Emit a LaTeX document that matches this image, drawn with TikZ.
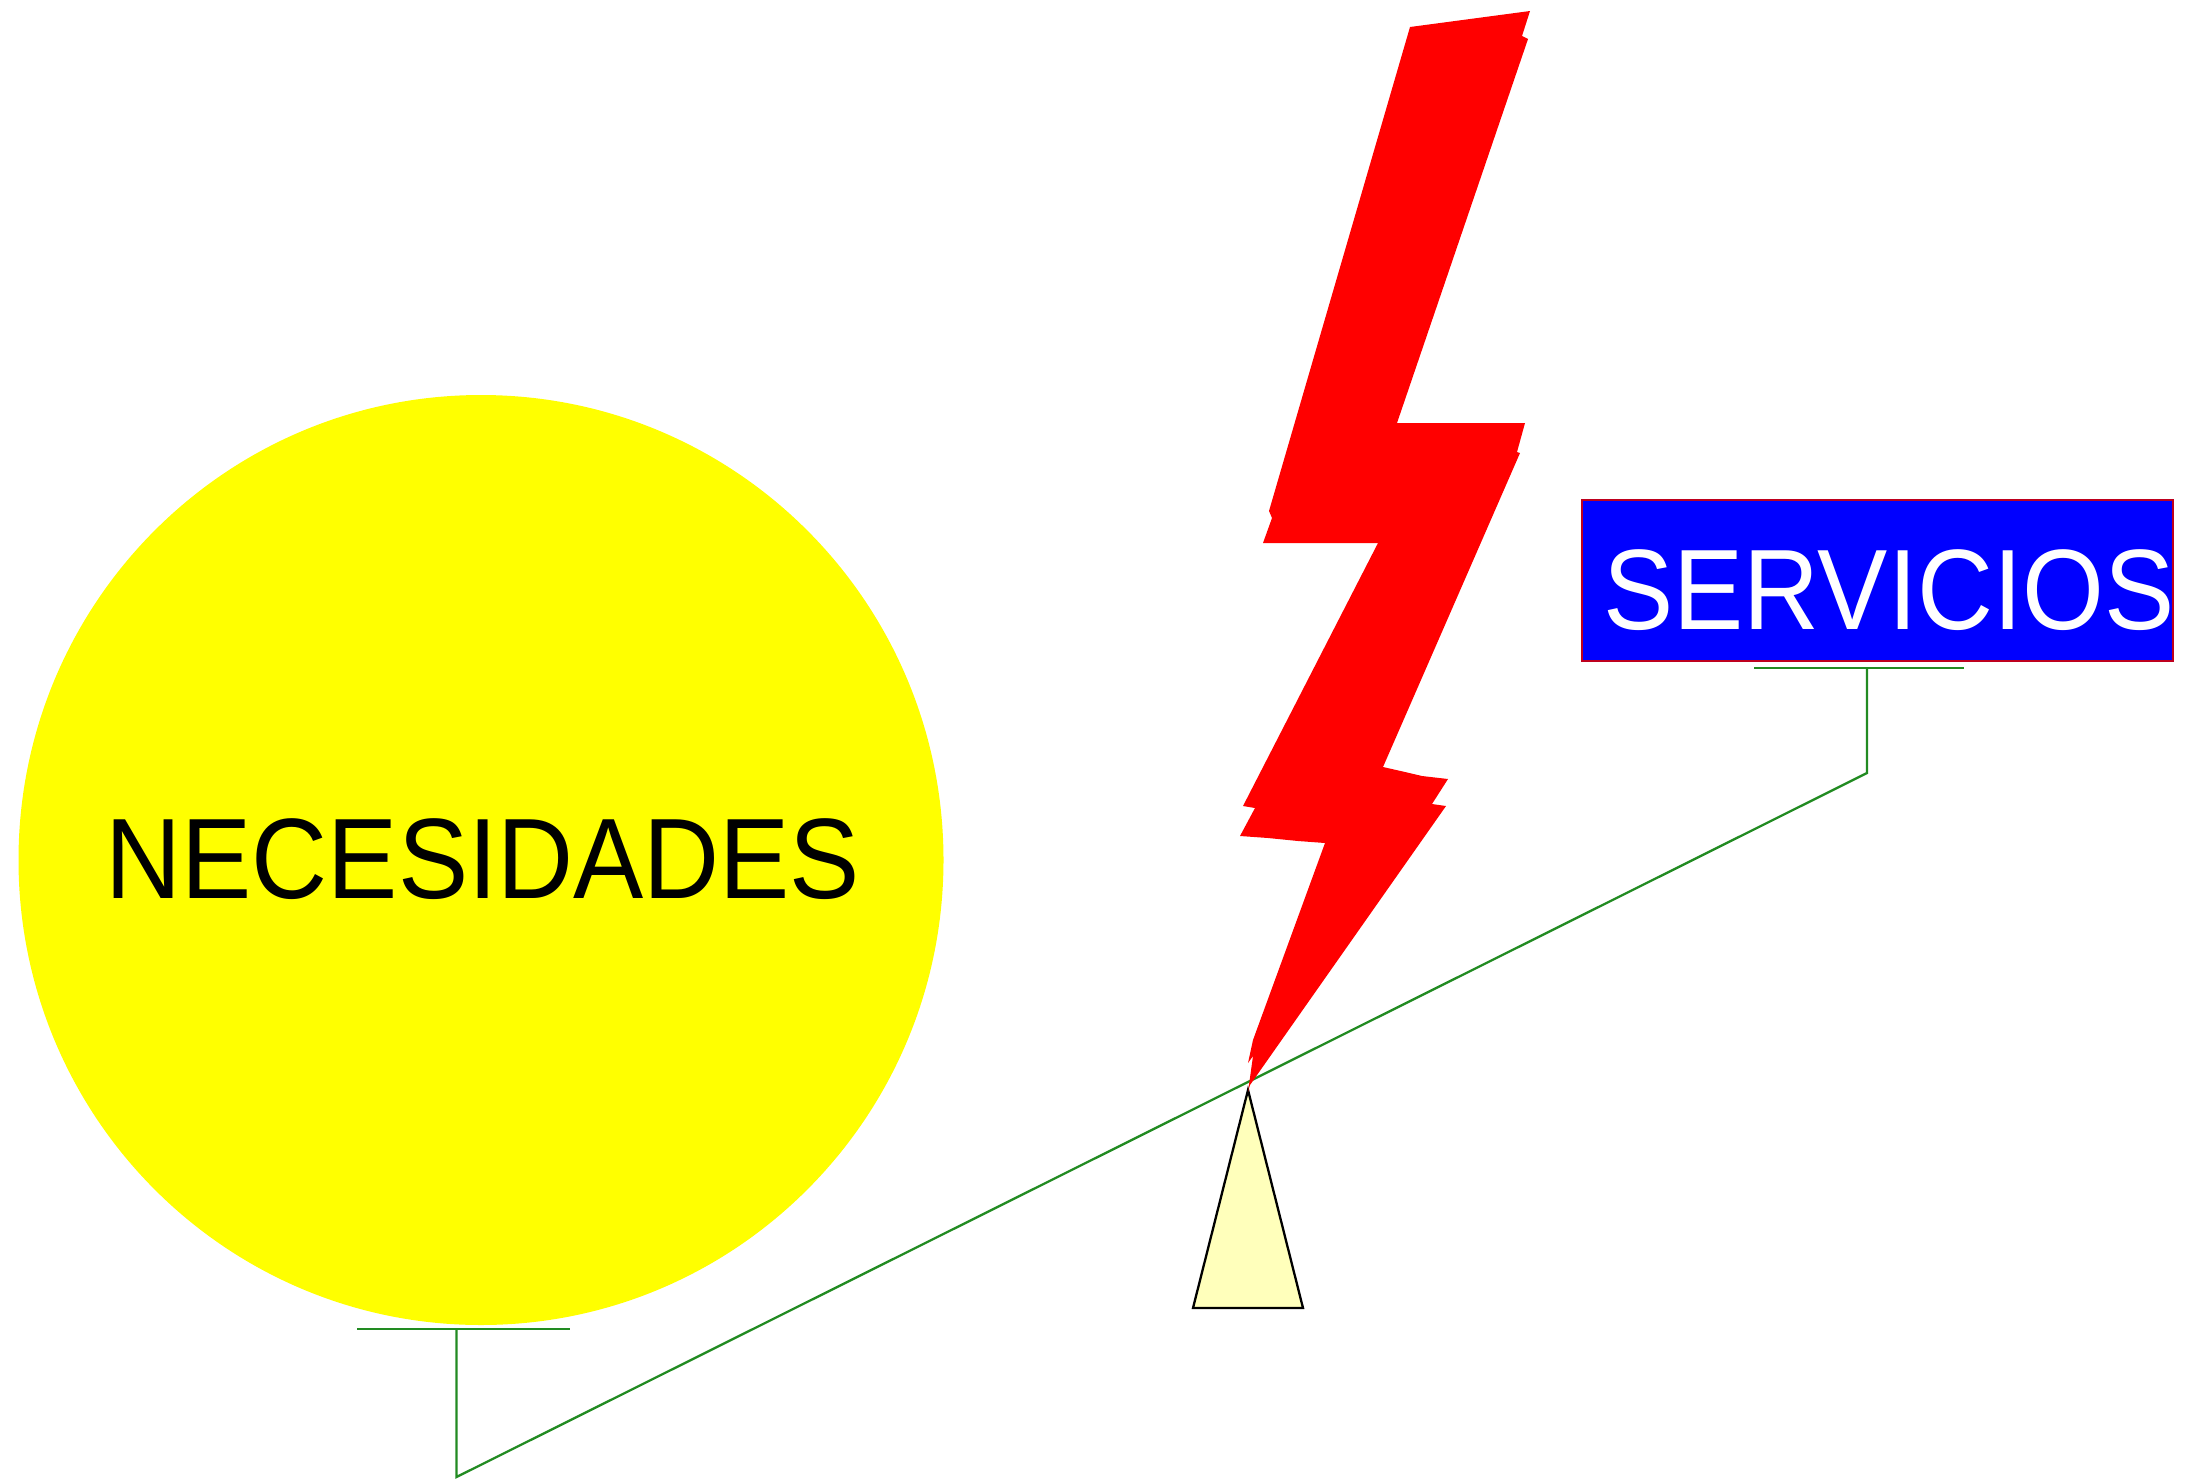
\documentclass[tikz,border=0pt]{standalone}
\usepackage{fontspec}
\setmainfont{Liberation Sans}
\usetikzlibrary{shapes.geometric}
\definecolor{beamgreen}{RGB}{34,139,34}
\definecolor{pivotfill}{RGB}{255,255,187}
\definecolor{boxedge}{RGB}{190,0,30}
\definecolor{loadyellow}{RGB}{255,255,0}
\definecolor{boltred}{RGB}{255,0,0}
\definecolor{boxblue}{RGB}{0,0,255}
\newcommand{\bigcaps}[1]{\scalebox{1.012}[1.1]{#1}}
\tikzset{
  beam/.style={draw=beamgreen,line width=2.3pt,line join=miter},
  bigtext/.style={inner sep=0pt,anchor=base,font=\fontsize{104}{120}\selectfont},
}
\begin{document}
\begin{tikzpicture}[x=1pt,y=-1pt]
\useasboundingbox (0,0) rectangle (2195,1478);
% load circle
\node[ellipse,fill=loadyellow,inner sep=0pt,minimum width=925pt,minimum height=930pt] (nec) at (481,860) {};
\node[bigtext,text=black] (nectext) at (483,898) {\bigcaps{NECESIDADES}};
% load box
\node[draw=boxedge,line width=2.3pt,fill=boxblue,inner sep=0pt,minimum width=591pt,minimum height=161pt] (serv) at (1877.5,580.5) {};
\node[bigtext,text=white] (servtext) at (1889,629) {\bigcaps{SERVICIOS}};
% pivot
\coordinate (pa) at (1248,1090);
\coordinate (pb) at (1193,1308);
\coordinate (pc) at (1303,1308);
\draw[fill=pivotfill,draw=black,line width=2.3pt,line join=miter] (pa) -- (pb) -- (pc) -- cycle;
% beam
\coordinate (lowend) at (456.5,1477);
\coordinate (highend) at (1867,773);
\coordinate (lowtop) at (456.5,1329);
\coordinate (hightop) at (1867,668);
\coordinate (lowbarl) at (357,1329);
\coordinate (lowbarr) at (570,1329);
\coordinate (highbarl) at (1754,668);
\coordinate (highbarr) at (1964,668);
\draw[beam] (lowtop) -- (lowend) -- (highend) -- (hightop);
\draw[beam] (lowbarl) -- (lowbarr);
\draw[beam] (highbarl) -- (highbarr);
% lightning
\fill[boltred] (1410,27) -- (1530,11) -- (1522,36) -- (1528,39) -- (1397,423) -- (1525,423)
  -- (1517,452) -- (1520,453) -- (1383,767) -- (1405,772) -- (1422,776)
  -- (1448,779) -- (1432,804) -- (1446,806) -- (1250,1085) -- (1248,1092)
  -- (1253,1056) -- (1248,1063) -- (1253,1040) -- (1325,843) -- (1298,841) -- (1268,838)
  -- (1240,836) -- (1255,808) -- (1243,806) -- (1378,543) -- (1263,543) -- (1272,518)
  -- (1269,511) -- cycle;
\end{tikzpicture}
\end{document}
